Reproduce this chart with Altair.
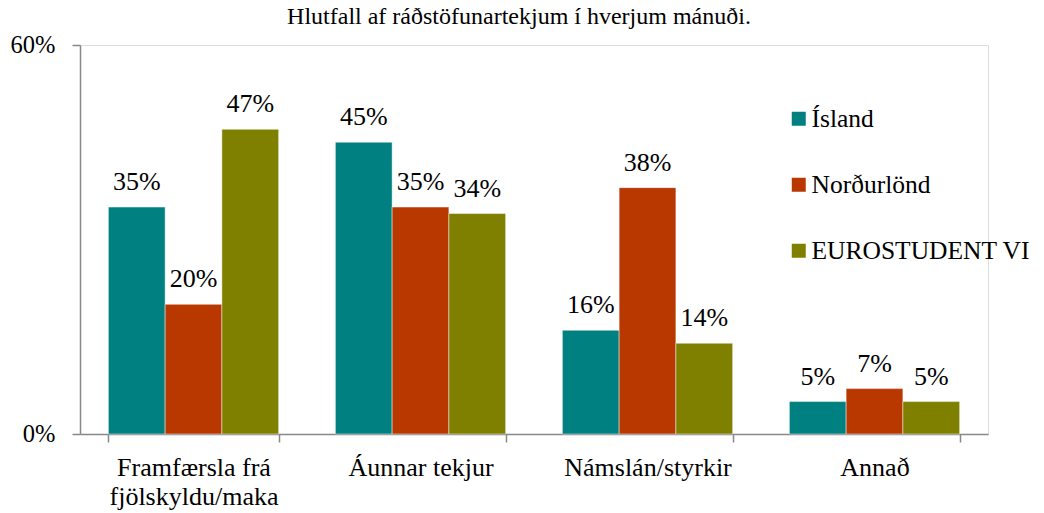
import altair as alt
import pandas as pd

categories = ["Framfærsla frá fjölskyldu/maka", "Áunnar tekjur", "Námslán/styrkir", "Annað"]
series = ["Ísland", "Norðurlönd", "EUROSTUDENT VI"]
island = [35, 45, 16, 5]
nordurlond = [20, 35, 38, 7]
eurostudent = [47, 34, 14, 5]
colors = ["#008080", "#B83800", "#808000"]
y_ticks = [0, 60]

rows = []
for s, vals in zip(series, [island, nordurlond, eurostudent]):
    for c, v in zip(categories, vals):
        rows.append({"flokkur": c, "hopur": s, "gildi": v, "merki": f"{v}%"})
df = pd.DataFrame(rows)

FONT = "Liberation Serif"
AX = "#888888"

x = alt.X(
    "flokkur:N", sort=categories, title=None,
    scale=alt.Scale(paddingInner=0.25, paddingOuter=0.125),
    axis=alt.Axis(
        labelAngle=0, tickBand="extent", labelFont=FONT, labelFontSize=26,
        labelColor="black", labelPadding=12, tickSize=8, domainColor=AX,
        tickColor=AX, domainWidth=1.5, tickWidth=1.5, labelLineHeight=29,
        labelExpr="datum.label == 'Framfærsla frá fjölskyldu/maka' ? ['Framfærsla frá', 'fjölskyldu/maka'] : datum.label",
    ),
)
xo = alt.XOffset("hopur:N", scale=alt.Scale(domain=series, paddingInner=0, paddingOuter=0))
y = alt.Y(
    "gildi:Q", title=None, scale=alt.Scale(domain=[0, 60]),
    axis=alt.Axis(
        values=y_ticks, labelExpr="datum.value + '%'", grid=False, tickSize=8,
        labelPadding=17, labelFontSize=24.5, labelFont=FONT, labelColor="black",
        domainColor=AX, tickColor=AX, domainWidth=1.5, tickWidth=1.5,
    ),
)
color = alt.Color(
    "hopur:N",
    scale=alt.Scale(domain=series, range=colors),
    legend=alt.Legend(
        title=None, orient="none", legendX=706, legendY=61, symbolType="square",
        symbolSize=196, labelFontSize=25.5, labelFont=FONT, labelColor="black",
        rowPadding=39, labelOffset=0, symbolStrokeWidth=0, symbolOpacity=1,
        labelLimit=0,
    ),
)

base = alt.Chart(df)
bars = base.mark_bar(opacity=1, stroke="#ffffff", strokeWidth=0.75, strokeOpacity=0.6).encode(
    x=x, xOffset=xo, y=y, color=color
)
labels = base.mark_text(
    dy=-17, baseline="alphabetic", font=FONT, fontSize=26, color="black"
).encode(x=x, xOffset=xo, y=y, text="merki:N")

chart = (
    alt.layer(bars, labels)
    .properties(
        width=908, height=389,
        title=alt.TitleParams(
            "Hlutfall af ráðstöfunartekjum í hverjum mánuði.",
            font=FONT, fontSize=24, fontWeight="normal", color="black",
            anchor="middle", frame="group", offset=-16, dx=-15,
            baseline="alphabetic",
        ),
        autosize=alt.AutoSizeParams(type="none"),
        padding={"left": 72, "top": 37, "right": 48, "bottom": 79},
    )
    .configure_view(stroke=None)
    .configure(background="white", font=FONT)
)

chart.save("out.html", embed_options={"renderer": "svg", "actions": False})
